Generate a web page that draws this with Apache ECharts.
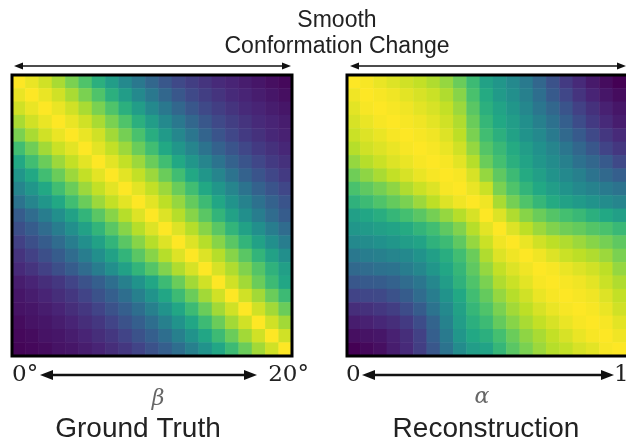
<!DOCTYPE html>
<html>
<head>
<meta charset="utf-8">
<title>Smooth Conformation Change</title>
<script src="https://cdn.jsdelivr.net/npm/echarts@6/dist/echarts.min.js"></script>
<style>
  html, body { margin: 0; padding: 0; background: #fff; }
  #main { width: 626px; height: 443px; }
</style>
</head>
<body>
<div id="main"></div>
<script>
// 21 steps on each axis (beta 0..20 deg, alpha 0..1)
const steps = ['0','1','2','3','4','5','6','7','8','9','10','11','12','13','14','15','16','17','18','19','20'];

// ground truth similarity, row = top to bottom, values 0..100
const gtRows = [
  [100, 97, 93, 87, 80, 72, 63, 55, 47, 40, 33, 27, 22, 18, 15, 12, 10, 8, 6, 4, 2],
  [97, 100, 97, 93, 87, 80, 72, 63, 55, 47, 40, 33, 27, 22, 18, 15, 12, 10, 8, 6, 4],
  [93, 97, 100, 97, 93, 87, 80, 72, 63, 55, 47, 40, 33, 27, 22, 18, 15, 12, 10, 8, 6],
  [87, 93, 97, 100, 97, 93, 87, 80, 72, 63, 55, 47, 40, 33, 27, 22, 18, 15, 12, 10, 8],
  [80, 87, 93, 97, 100, 97, 93, 86, 79, 71, 62, 54, 46, 39, 32, 26, 21, 17, 14, 11, 9],
  [69, 78, 86, 92, 96, 100, 96, 91, 85, 77, 69, 60, 52, 45, 38, 31, 26, 21, 17, 14, 11],
  [60, 69, 77, 85, 91, 96, 100, 96, 91, 85, 77, 69, 60, 52, 45, 38, 31, 26, 21, 17, 14],
  [52, 60, 69, 77, 85, 91, 96, 100, 96, 91, 85, 77, 69, 60, 52, 45, 38, 31, 26, 21, 17],
  [45, 52, 60, 69, 77, 85, 91, 96, 100, 96, 91, 85, 77, 69, 60, 52, 45, 38, 31, 26, 21],
  [38, 45, 52, 60, 69, 77, 85, 91, 96, 100, 96, 90, 84, 76, 68, 59, 51, 44, 37, 31, 26],
  [29, 35, 42, 49, 57, 65, 74, 82, 89, 95, 100, 95, 89, 82, 74, 65, 57, 49, 42, 35, 29],
  [24, 29, 35, 42, 49, 57, 65, 74, 82, 89, 95, 100, 95, 89, 82, 74, 65, 57, 49, 42, 35],
  [19, 24, 29, 35, 42, 49, 57, 65, 74, 82, 89, 95, 100, 95, 89, 82, 74, 65, 57, 49, 42],
  [15, 19, 24, 29, 35, 42, 49, 57, 65, 74, 82, 89, 95, 100, 95, 89, 82, 74, 65, 57, 49],
  [12, 15, 19, 24, 29, 35, 42, 49, 57, 65, 73, 81, 88, 94, 100, 94, 88, 81, 73, 64, 56],
  [8, 10, 13, 16, 20, 25, 30, 36, 43, 51, 59, 68, 77, 86, 93, 100, 93, 86, 77, 68, 59],
  [6, 8, 10, 13, 16, 20, 25, 30, 36, 43, 51, 59, 68, 77, 86, 93, 100, 93, 86, 77, 68],
  [5, 6, 8, 10, 13, 16, 20, 25, 30, 36, 43, 51, 59, 68, 77, 86, 93, 100, 93, 86, 77],
  [3, 5, 6, 8, 10, 13, 16, 20, 25, 30, 36, 43, 51, 59, 68, 77, 86, 93, 100, 93, 86],
  [2, 3, 5, 6, 8, 10, 13, 16, 20, 25, 30, 36, 43, 51, 59, 68, 77, 86, 93, 100, 93],
  [1, 2, 3, 5, 6, 8, 10, 13, 16, 20, 25, 30, 36, 43, 51, 59, 68, 77, 86, 93, 100]
];

// reconstruction similarity
const recRows = [
  [100, 99, 97, 95, 93, 91, 88, 84, 77, 68, 57, 52, 47, 41, 33, 25, 17, 12, 7, 3, 0],
  [98, 100, 99, 98, 96, 94, 92, 88, 82, 71, 61, 54, 49, 43, 36, 28, 21, 15, 10, 6, 3],
  [96, 99, 100, 99, 98, 96, 94, 91, 85, 74, 63, 58, 52, 46, 39, 33, 26, 19, 14, 9, 6],
  [94, 97, 99, 100, 99, 98, 96, 93, 88, 77, 66, 60, 55, 49, 43, 37, 30, 23, 17, 12, 8],
  [92, 95, 97, 99, 100, 99, 98, 95, 90, 80, 69, 63, 57, 51, 47, 41, 34, 28, 22, 16, 12],
  [89, 93, 95, 97, 99, 100, 99, 97, 93, 84, 73, 67, 61, 55, 50, 45, 39, 33, 27, 20, 16],
  [84, 89, 92, 95, 97, 99, 100, 99, 96, 89, 77, 70, 63, 58, 52, 48, 43, 37, 33, 28, 22],
  [78, 83, 87, 91, 94, 97, 99, 100, 99, 94, 84, 75, 68, 61, 56, 51, 47, 43, 38, 34, 30],
  [71, 75, 79, 83, 88, 92, 95, 99, 100, 97, 92, 80, 72, 65, 60, 55, 51, 47, 44, 41, 38],
  [64, 68, 72, 76, 80, 85, 90, 95, 98, 100, 98, 87, 79, 72, 66, 61, 57, 54, 51, 48, 45],
  [56, 59, 62, 66, 70, 74, 79, 84, 89, 94, 100, 95, 88, 82, 77, 73, 70, 67, 63, 60, 56],
  [52, 54, 56, 58, 61, 65, 69, 75, 81, 89, 96, 100, 95, 90, 85, 81, 78, 76, 73, 71, 67],
  [47, 48, 50, 52, 55, 58, 64, 68, 75, 84, 92, 98, 100, 97, 93, 90, 88, 85, 82, 79, 75],
  [40, 42, 43, 45, 47, 51, 56, 62, 69, 77, 88, 95, 98, 100, 98, 95, 92, 90, 88, 85, 80],
  [34, 35, 37, 38, 42, 46, 52, 59, 66, 75, 84, 91, 95, 98, 100, 99, 97, 95, 93, 90, 84],
  [27, 28, 29, 31, 35, 39, 46, 55, 64, 72, 80, 88, 92, 96, 99, 100, 99, 98, 96, 92, 88],
  [20, 21, 22, 25, 29, 35, 42, 51, 60, 69, 76, 84, 89, 93, 97, 99, 100, 99, 98, 95, 91],
  [13, 14, 16, 18, 23, 29, 38, 47, 57, 66, 72, 80, 86, 90, 94, 97, 99, 100, 99, 97, 93],
  [8, 9, 11, 13, 17, 23, 32, 44, 55, 63, 68, 76, 82, 87, 91, 94, 97, 99, 100, 99, 96],
  [4, 5, 6, 9, 13, 19, 30, 41, 52, 60, 63, 70, 77, 83, 87, 91, 94, 97, 99, 100, 98],
  [0, 2, 4, 8, 12, 18, 27, 38, 48, 55, 58, 66, 74, 80, 85, 89, 91, 94, 96, 99, 100]
];

const viridis = ['#440154', '#482475', '#414487', '#355f8d', '#2a788e', '#21918c',
                 '#22a884', '#44bf70', '#7ad151', '#bddf26', '#fde725'];

function toCells(rows) {
  const out = [];
  rows.forEach((row, r) => {
    row.forEach((v, c) => out.push([c, r, v]));
  });
  return out;
}

const sans = 'Liberation Sans';
const serif = 'DejaVu Serif';

// arrow helper: line with filled heads at both ends (pixel positions, not data)
function arrow(x1, x2, y, lw, len, half) {
  return [
    { type: 'line', shape: { x1: x1 + len - 2, y1: y, x2: x2 - len + 2, y2: y },
      style: { stroke: '#111', lineWidth: lw }, z: 10 },
    { type: 'polygon', shape: { points: [[x1, y], [x1 + len, y - half], [x1 + len, y + half]] },
      style: { fill: '#111' }, z: 10 },
    { type: 'polygon', shape: { points: [[x2, y], [x2 - len, y - half], [x2 - len, y + half]] },
      style: { fill: '#111' }, z: 10 }
  ];
}

const chart = echarts.init(document.getElementById('main'));

const option = {
  animation: false,
  backgroundColor: '#fff',
  grid: [
    { left: 12, top: 75, width: 280, height: 281 },
    { left: 347, top: 75, width: 280, height: 281 }
  ],
  xAxis: [
    { type: 'category', data: steps, gridIndex: 0, show: false },
    { type: 'category', data: steps, gridIndex: 1, show: false }
  ],
  yAxis: [
    { type: 'category', data: steps, gridIndex: 0, show: false, inverse: true },
    { type: 'category', data: steps, gridIndex: 1, show: false, inverse: true }
  ],
  visualMap: {
    show: false,
    type: 'continuous',
    min: 0,
    max: 100,
    seriesIndex: [0, 1],
    inRange: { color: viridis }
  },
  series: [
    {
      type: 'heatmap', xAxisIndex: 0, yAxisIndex: 0,
      data: toCells(gtRows),
      itemStyle: { borderWidth: 0 },
      emphasis: { disabled: true }
    },
    {
      type: 'heatmap', xAxisIndex: 1, yAxisIndex: 1,
      data: toCells(recRows),
      itemStyle: { borderWidth: 0 },
      emphasis: { disabled: true }
    }
  ],
  graphic: [
    // frames
    { type: 'rect', shape: { x: 12, y: 75, width: 280, height: 281 },
      style: { fill: 'none', stroke: '#000', lineWidth: 3 }, z: 9 },
    { type: 'rect', shape: { x: 347, y: 75, width: 282, height: 281 },
      style: { fill: 'none', stroke: '#000', lineWidth: 3 }, z: 9 },

    // top title
    { type: 'text', x: 337, y: 21, z: 10,
      style: { text: 'Smooth', font: '23px "' + sans + '"', fill: '#222', align: 'center', verticalAlign: 'middle' } },
    { type: 'text', x: 337, y: 47, z: 10,
      style: { text: 'Conformation Change', font: '23px "' + sans + '"', fill: '#222', align: 'center', verticalAlign: 'middle' } },

    ...arrow(14, 291, 66, 1.5, 9, 3.5),
    ...arrow(350, 626, 66, 1.5, 9, 3.5),

    // bottom axes
    { type: 'text', x: 12, y: 375, z: 10,
      style: { text: '0°', font: '23px "' + serif + '"', fill: '#222', align: 'left', verticalAlign: 'middle' } },
    { type: 'text', x: 309, y: 375, z: 10,
      style: { text: '20°', font: '23px "' + serif + '"', fill: '#222', align: 'right', verticalAlign: 'middle' } },
    ...arrow(40, 257, 375, 2.5, 13, 5),
    { type: 'text', x: 158, y: 399, z: 10,
      style: { text: 'β', font: 'italic 22px "' + serif + '"', fill: '#666', align: 'center', verticalAlign: 'middle' } },

    { type: 'text', x: 346, y: 375, z: 10,
      style: { text: '0', font: '23px "' + serif + '"', fill: '#222', align: 'left', verticalAlign: 'middle' } },
    { type: 'text', x: 614, y: 375, z: 10,
      style: { text: '1', font: '23px "' + serif + '"', fill: '#222', align: 'left', verticalAlign: 'middle' } },
    ...arrow(362, 614, 375, 2.5, 13, 5),
    { type: 'text', x: 482, y: 397, z: 10,
      style: { text: 'α', font: 'italic 22px "' + serif + '"', fill: '#666', align: 'center', verticalAlign: 'middle' } },

    // panel names
    { type: 'text', x: 138, y: 429, z: 10,
      style: { text: 'Ground Truth', font: '28px "' + sans + '"', fill: '#222', align: 'center', verticalAlign: 'middle' } },
    { type: 'text', x: 486, y: 429, z: 10,
      style: { text: 'Reconstruction', font: '28px "' + sans + '"', fill: '#222', align: 'center', verticalAlign: 'middle' } }
  ]
};

chart.setOption(option);
</script>
</body>
</html>
